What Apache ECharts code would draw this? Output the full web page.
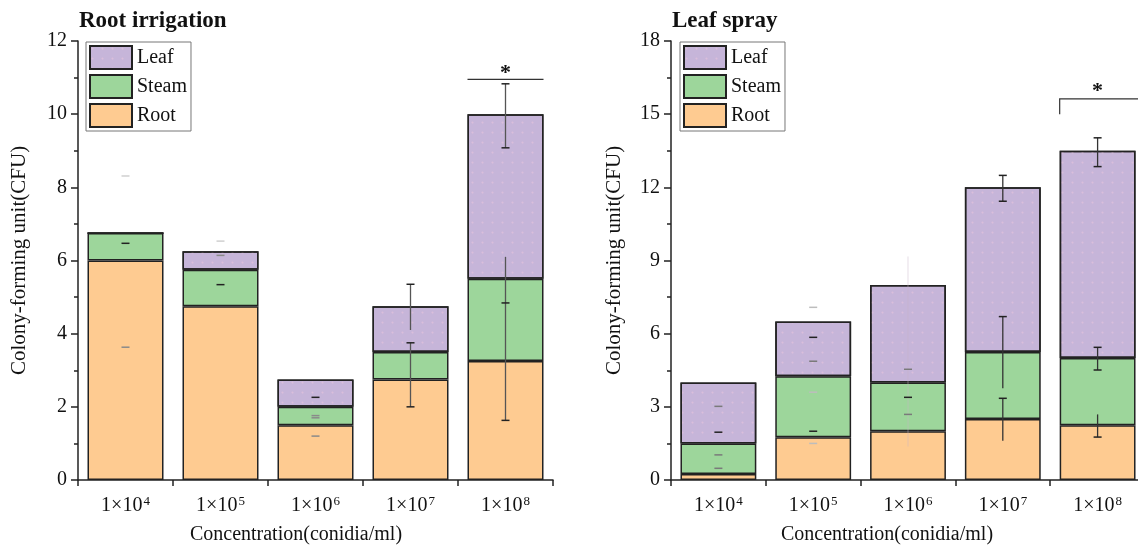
<!DOCTYPE html>
<html>
<head>
<meta charset="utf-8">
<script src="https://cdn.jsdelivr.net/npm/echarts@6/dist/echarts.min.js"></script>
<style>
  html, body { margin: 0; padding: 0; background: #fff; }
  #chart { width: 1138px; height: 548px; }
</style>
</head>
<body>
<div id="chart"></div>
<script>
// Concentration categories (exponent after ^)
const conc = ['1×10^4', '1×10^5', '1×10^6', '1×10^7', '1×10^8'];

// Root irrigation: stacked segment heights (CFU)
const riRoot  = [6.0, 4.75, 1.5, 2.75, 3.25];
const riSteam = [0.75, 1.0, 0.5, 0.75, 2.25];
const riLeaf  = [0, 0.5, 0.75, 1.25, 4.5];

// Leaf spray: stacked segment heights (CFU)
const lsRoot  = [0.25, 1.75, 2.0, 2.5, 2.25];
const lsSteam = [1.25, 2.5, 2.0, 2.75, 2.75];
const lsLeaf  = [2.5, 2.25, 4.0, 6.75, 8.5];

// Error bar stems [category, low, high]
const riStems = [[3, 4.10, 5.35], [3, 2.0, 3.75], [4, 9.08, 10.83], [4, 1.63, 6.1]];
const lsStems = [[3, 11.43, 12.49], [3, 3.76, 6.7], [3, 1.61, 3.35], [4, 12.85, 14.03], [4, 4.51, 5.44], [4, 1.76, 2.69]];
const lsStemsFaint = [[2, 1.37, 9.16]];

// Error bar caps [category, value]
const riCapsDark  = [[0, 6.47], [1, 5.34], [2, 2.26], [3, 5.35], [3, 3.75], [3, 2.0], [4, 10.83], [4, 9.08], [4, 4.84], [4, 1.63]];
const riCapsGrey  = [[0, 3.63], [1, 6.14], [2, 1.76], [2, 1.70], [2, 1.2]];
const riCapsFaint = [[0, 8.31], [1, 6.53]];
const lsCapsDark  = [[0, 1.96], [1, 5.85], [1, 2.0], [2, 3.39], [3, 12.49], [3, 11.43], [3, 6.7], [3, 3.35], [4, 14.03], [4, 12.85], [4, 5.44], [4, 4.51], [4, 1.76]];
const lsCapsGrey  = [[0, 3.02], [0, 1.03], [0, 0.48], [1, 4.87], [2, 4.54], [2, 2.69]];
const lsCapsFaint = [[1, 7.08], [1, 3.6], [1, 1.5]];

// Significance brackets [category, y, startOffset, endOffset, footY] and stars [category, y]
const riBracket = [[4, 10.95, -0.4, 0.4, 10.95]];
const lsBracket = [[4, 15.63, -0.4, 1.5, 15.0]];
const riStar = [[4, 11.13]];
const lsStar = [[4, 15.95]];

// Axis ranges
const riAxis = { max: 12, interval: 2 };
const lsAxis = { max: 18, interval: 3 };

const FONT = '"Liberation Serif", "Times New Roman", serif';
const COLORS = { Leaf: '#c6b5d9', Steam: '#9dd69b', Root: '#fecb91' };

const chart = echarts.init(document.getElementById('chart'), null, { renderer: 'canvas' });

function catLabel(v) {
  const p = v.split('^');
  return '{b|' + p[0] + '}{s|' + p[1] + '}';
}

function xAxisCfg(gridIndex) {
  return {
    type: 'category', gridIndex: gridIndex, data: conc,
    axisLine: { lineStyle: { color: '#222', width: 1.5 } },
    axisTick: { show: true, length: 6, lineStyle: { color: '#222', width: 1.5 } },
    axisLabel: {
      margin: 15, color: '#111', formatter: catLabel,
      rich: {
        b: { fontFamily: FONT, fontSize: 20, color: '#111', lineHeight: 22 },
        s: { fontFamily: FONT, fontSize: 13, color: '#111', verticalAlign: 'top', lineHeight: 22, padding: [0, 0, 10, 1] }
      }
    },
    splitLine: { show: false }
  };
}

function yAxisCfg(gridIndex, rng, gap) {
  return {
    type: 'value', gridIndex: gridIndex, min: 0, max: rng.max, interval: rng.interval,
    name: 'Colony-forming unit(CFU)', nameLocation: 'middle', nameGap: gap, nameRotate: 90,
    nameTextStyle: { fontFamily: FONT, fontSize: 21, color: '#111' },
    axisLine: { show: true, lineStyle: { color: '#222', width: 1.5 } },
    axisTick: { show: true, length: 7, lineStyle: { color: '#222', width: 1.5 } },
    minorTick: { show: true, splitNumber: 2, length: 4, lineStyle: { color: '#222', width: 1.5 } },
    axisLabel: { fontFamily: FONT, fontSize: 20, color: '#111', margin: 11 },
    splitLine: { show: false }
  };
}

const dots = { symbol: 'circle', symbolSize: 0.45, dashArrayX: 5, dashArrayY: 5, color: 'rgba(238,200,222,0.5)' };

function barSeries(name, data, idx, stack) {
  const s = {
    name: name, type: 'bar', stack: stack, xAxisIndex: idx, yAxisIndex: idx,
    data: data, barCategoryGap: '20%',
    itemStyle: { color: COLORS[name], borderColor: '#222', borderWidth: 1.5 },
    emphasis: { disabled: true }, z: 2
  };
  if (name === 'Leaf') s.itemStyle.decal = dots;
  return s;
}

function stemSeries(data, idx, color) {
  return {
    type: 'custom', xAxisIndex: idx, yAxisIndex: idx, data: data, z: 5, silent: true,
    renderItem: function (params, api) {
      const a = api.coord([api.value(0), api.value(1)]);
      const b = api.coord([api.value(0), api.value(2)]);
      return { type: 'line', shape: { x1: a[0], y1: a[1], x2: b[0], y2: b[1] },
               style: { stroke: color, lineWidth: 1.3 } };
    }
  };
}

function capSeries(data, idx, color) {
  return {
    type: 'custom', xAxisIndex: idx, yAxisIndex: idx, data: data, z: 6, silent: true,
    renderItem: function (params, api) {
      const p = api.coord([api.value(0), api.value(1)]);
      return { type: 'line', shape: { x1: p[0] - 4, y1: p[1], x2: p[0] + 4, y2: p[1] },
               style: { stroke: color, lineWidth: 1.5 } };
    }
  };
}

function bracketSeries(data, idx) {
  return {
    type: 'custom', xAxisIndex: idx, yAxisIndex: idx, data: data, z: 6, silent: true, clip: false,
    renderItem: function (params, api) {
      const band = api.size([1, 0])[0];
      const c = api.coord([api.value(0), api.value(1)]);
      const foot = api.coord([api.value(0), api.value(4)]);
      const x0 = c[0] + api.value(2) * band;
      const x1 = c[0] + api.value(3) * band;
      return { type: 'polyline', shape: { points: [[x0, foot[1]], [x0, c[1]], [x1, c[1]]] },
               style: { stroke: '#333', lineWidth: 1.2, fill: null } };
    }
  };
}

function starSeries(data, idx) {
  return {
    type: 'custom', xAxisIndex: idx, yAxisIndex: idx, data: data, z: 6, silent: true, clip: false,
    renderItem: function (params, api) {
      const p = api.coord([api.value(0), api.value(1)]);
      return { type: 'text', x: p[0], y: p[1],
               style: { text: '*', font: 'bold 22px ' + FONT, fill: '#111', align: 'center', verticalAlign: 'middle' } };
    }
  };
}

function legendCfg(left) {
  return {
    orient: 'vertical', left: left, top: 42, data: ['Leaf', 'Steam', 'Root'],
    itemWidth: 42, itemHeight: 23, itemGap: 4, padding: [3, 4, 3, 3],
    backgroundColor: '#fff', borderColor: '#777', borderWidth: 1,
    textStyle: { fontFamily: FONT, fontSize: 20, color: '#111' },
    selectedMode: false, icon: 'rect'
  };
}

const option = {
  animation: false,
  title: [
    { text: 'Root irrigation', left: 79, top: 10, padding: 0,
      textStyle: { fontFamily: FONT, fontSize: 23, fontWeight: 'bold', color: '#111' } },
    { text: 'Leaf spray', left: 672, top: 10, padding: 0,
      textStyle: { fontFamily: FONT, fontSize: 23, fontWeight: 'bold', color: '#111' } },
    { text: 'Concentration(conidia/ml)', left: 296, top: 525, padding: 0, textAlign: 'center',
      textStyle: { fontFamily: FONT, fontSize: 20, fontWeight: 'normal', color: '#111' } },
    { text: 'Concentration(conidia/ml)', left: 887, top: 525, padding: 0, textAlign: 'center',
      textStyle: { fontFamily: FONT, fontSize: 20, fontWeight: 'normal', color: '#111' } }
  ],
  legend: [legendCfg(86), legendCfg(680)],
  grid: [
    { left: 78, top: 41, width: 475, height: 439, containLabel: false, outerBoundsMode: 'none' },
    { left: 671, top: 41, width: 474, height: 439, containLabel: false, outerBoundsMode: 'none' }
  ],
  xAxis: [xAxisCfg(0), xAxisCfg(1)],
  yAxis: [yAxisCfg(0, riAxis, 48), yAxisCfg(1, lsAxis, 46)],
  series: [
    barSeries('Root', riRoot, 0, 'ri'),
    barSeries('Steam', riSteam, 0, 'ri'),
    barSeries('Leaf', riLeaf, 0, 'ri'),
    barSeries('Root', lsRoot, 1, 'ls'),
    barSeries('Steam', lsSteam, 1, 'ls'),
    barSeries('Leaf', lsLeaf, 1, 'ls'),
    stemSeries(riStems, 0, '#555'),
    stemSeries(lsStems, 1, '#333'),
    stemSeries(lsStemsFaint, 1, 'rgba(200,180,200,0.35)'),
    capSeries(riCapsDark, 0, '#222'),
    capSeries(riCapsGrey, 0, '#8a8a8a'),
    capSeries(riCapsFaint, 0, '#d0d0d0'),
    capSeries(lsCapsDark, 1, '#222'),
    capSeries(lsCapsGrey, 1, '#7a7a7a'),
    capSeries(lsCapsFaint, 1, '#bdbdbd'),
    bracketSeries(riBracket, 0),
    bracketSeries(lsBracket, 1),
    starSeries(riStar, 0),
    starSeries(lsStar, 1)
  ]
};

chart.setOption(option);
</script>
</body>
</html>
